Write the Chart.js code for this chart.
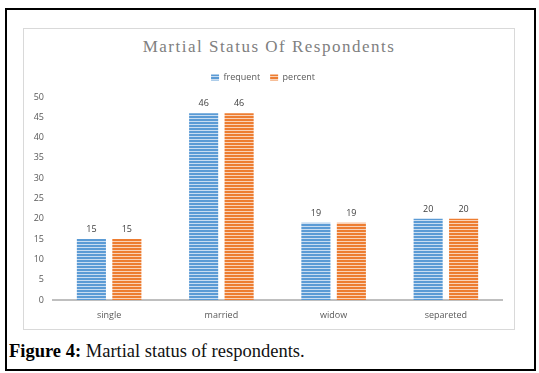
<!DOCTYPE html>
<html>
<head>
<meta charset="utf-8">
<script src="https://cdn.jsdelivr.net/npm/chart.js@4"></script>
<style>
  html, body { margin: 0; padding: 0; background: #fff; }
  body { width: 539px; height: 373px; position: relative; overflow: hidden; }
  .frame { position: absolute; left: 5px; top: 8px; width: 527px; height: 359px; border: 2px solid #000; }
  .box { position: absolute; left: 23px; top: 28px; width: 490px; height: 300px; border: 1px solid #d9d9d9; }
  .title { position: absolute; left: 23px; width: 492px; top: 37px; text-align: center;
    font-family: "Liberation Serif", serif; font-size: 17px; letter-spacing: 1.5px; color: #808080; }
  .wrap { position: absolute; left: 24px; top: 29px; width: 489px; height: 299px; }
  .cap { position: absolute; left: 9px; top: 341px; font-family: "Liberation Serif", serif; font-size: 18.5px; color: #111; }
  .cap b { color: #000; }
</style>
</head>
<body>
<div class="frame"></div>
<div class="box"></div>
<div class="title">Martial Status Of Respondents</div>
<div class="wrap"><canvas id="c" width="489" height="299"></canvas></div>
<div class="cap"><b>Figure 4:</b> Martial status of respondents.</div>
<script>
const categories = ['single', 'married', 'widow', 'separeted'];
const frequent = [15, 46, 19, 20];
const percent = [15, 46, 19, 20];
const yTicks = [0, 5, 10, 15, 20, 25, 30, 35, 40, 45, 50];

function stripes(dark, light) {
  const p = document.createElement('canvas');
  p.width = 4; p.height = 3;
  const g = p.getContext('2d');
  g.fillStyle = dark; g.fillRect(0, 0, 4, 2);
  g.fillStyle = light; g.fillRect(0, 2, 4, 1);
  return g.createPattern(p, 'repeat');
}

const valueLabels = {
  id: 'valueLabels',
  afterInit(chart) {
    // leave a little more room under the legend
    const lg = chart.legend;
    const fit = lg.fit;
    lg.fit = function () { fit.call(this); this.height += 5; };
  },
  afterDatasetsDraw(chart) {
    const ctx = chart.ctx;
    ctx.save();
    ctx.font = '9px "Open Sans", sans-serif';
    ctx.fillStyle = '#404040';
    ctx.textAlign = 'center';
    ctx.textBaseline = 'bottom';
    chart.data.datasets.forEach((ds, i) => {
      chart.getDatasetMeta(i).data.forEach((bar, j) => {
        ctx.fillText(ds.data[j], bar.x, bar.y - 5);
      });
    });
    ctx.restore();
  }
};

const ctx = document.getElementById('c').getContext('2d');
new Chart(ctx, {
  type: 'bar',
  data: {
    labels: categories,
    datasets: [
      { label: 'frequent', data: frequent, backgroundColor: stripes('#5b9bd5', '#c9ddf1') },
      { label: 'percent', data: percent, backgroundColor: stripes('#ed7d31', '#f9d2b8') },
    ],
  },
  options: {
    responsive: false,
    animation: false,
    categoryPercentage: 0.632,
    barPercentage: 0.82,
    layout: { padding: { top: 34, right: 11, left: 0, bottom: 0 } },
    plugins: {
      legend: {
        labels: { color: '#595959', boxWidth: 8, boxHeight: 6, padding: 10, font: { size: 9, family: '"Open Sans", sans-serif' } }
      },
      tooltip: { enabled: false },
    },
    scales: {
      x: {
        grid: { display: false, drawTicks: false },
        border: { color: '#bfbfbf', width: 2 },
        ticks: { color: '#595959', padding: 10, font: { size: 9, family: '"Open Sans", sans-serif' } },
        afterFit(s) { s.height = 28; },
      },
      y: {
        min: 0, max: 50,
        afterBuildTicks(s) { s.ticks = yTicks.map(v => ({ value: v })); },
        grid: { display: false, drawTicks: false },
        border: { display: false },
        ticks: { color: '#595959', padding: 9, font: { size: 9, family: '"Open Sans", sans-serif' } },
        afterFit(s) { s.width = 29; },
      },
    },
  },
  plugins: [valueLabels],
});
</script>
</body>
</html>
